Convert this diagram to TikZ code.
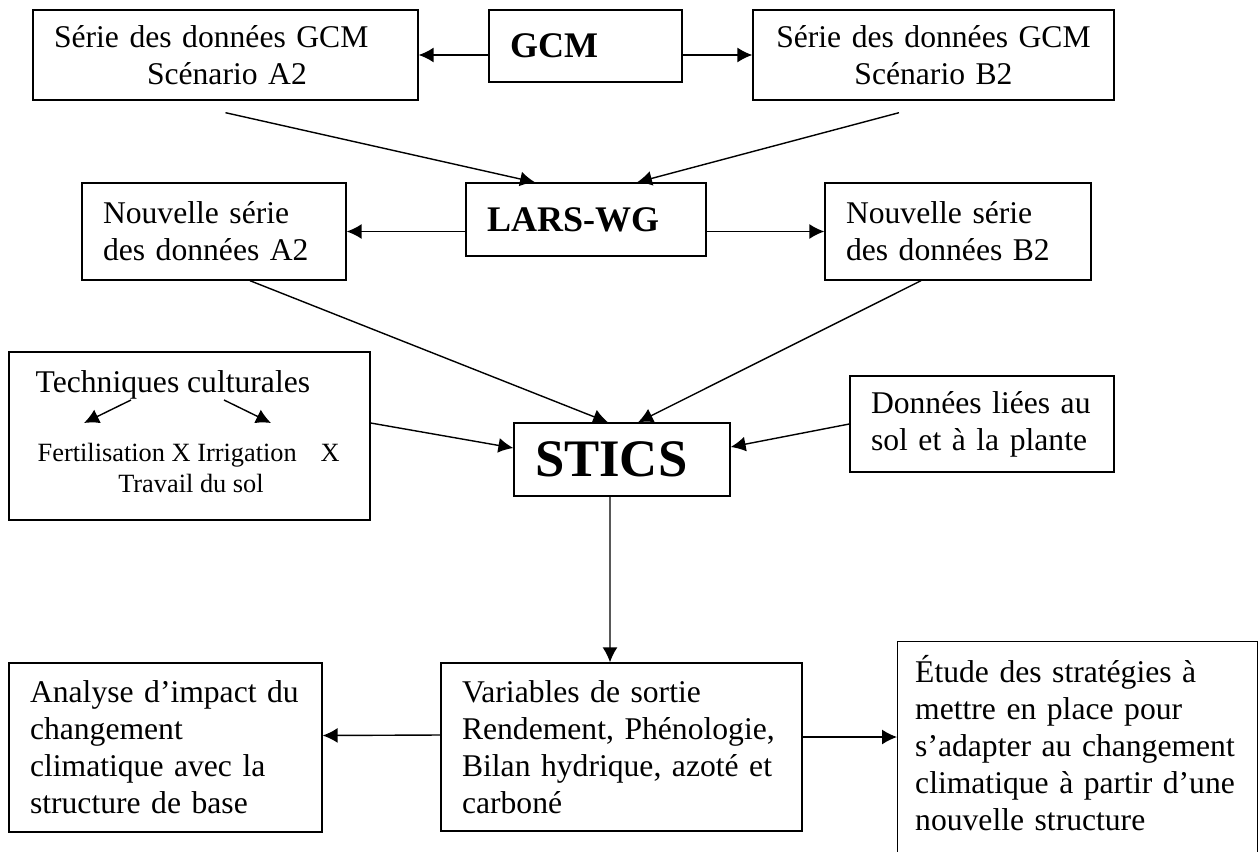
\documentclass[tikz,border=0pt]{standalone}
\usepackage{fontspec}
\setmainfont{Liberation Serif}
\usetikzlibrary{arrows.meta}

\begin{document}
\begin{tikzpicture}[x=0.02cm, y=-0.02cm, line width=0.8pt, >={Latex[length=8.5pt,width=8.5pt]},
    every node/.style={font=\fontsize{18}{21}\selectfont},
    bnode/.style={draw, inner xsep=0.42cm, inner ysep=0pt, align=left},
    cnode/.style={draw, inner sep=0pt, align=center, text width=#1},
    tnode/.style={inner sep=0pt},
    bold/.style={font=\fontsize{20.5}{24}\selectfont\bfseries},
    small/.style={font=\fontsize{15}{18}\selectfont}]
    \useasboundingbox (0,0) rectangle (1258,852);
    \clip (0,0) rectangle (1258,852);

    \node[bnode, text width=6.86cm, minimum height=1.8cm] (serA) at (225.5,55) {Série des données GCM\\\hspace*{1.86cm}Scénario A2};
    \node[bnode, bold, text width=3.02cm, minimum height=1.44cm] (gcm) at (585.5,46) {GCM};
    \node[cnode=7.22cm, minimum height=1.8cm] (serB) at (933.5,55) {Série des données GCM\\Scénario B2};

    \node[bnode, bold, text width=3.96cm, minimum height=1.46cm] (lars) at (586,219.5) {LARS-WG};
    \node[bnode, text width=4.44cm, minimum height=1.94cm] (nouvA) at (214,231.5) {Nouvelle série\\des données A2};
    \node[bnode, text width=4.48cm, minimum height=1.94cm] (nouvB) at (958,231.5) {Nouvelle série\\des données B2};

    \node[draw, minimum width=7.22cm, minimum height=3.36cm] (tech) at (189.5,436) {};
    \node[tnode, anchor=base west] (techT) at (35,392) {Techniques culturales};
    \node[tnode, small, anchor=base west] (techF) at (37,461) {Fertilisation X Irrigation\hspace{0.9em}X};
    \node[tnode, small, anchor=base] (techS) at (191,492) {Travail du sol};
    \coordinate (tA) at (131,400);
    \coordinate (tAe) at (84,423);
    \coordinate (tB) at (224,400);
    \coordinate (tBe) at (271,423);

    \node[bnode, text width=3.48cm, minimum height=1.46cm, font=\fontsize{30}{34}\selectfont\bfseries] (stics) at (622,459.5) {STICS};
    \node[bnode, text width=4.44cm, minimum height=1.92cm] (donnees) at (982,424) {Données liées au\\sol et à la plante};

    \node[bnode, text width=5.42cm, minimum height=3.38cm] (analyse) at (165.5,747.5) {Analyse d’impact du\\changement\\climatique avec la\\structure de base};
    \node[bnode, text width=6.38cm, minimum height=3.36cm] (variables) at (621.5,747) {Variables de sortie\\Rendement, Phénologie,\\Bilan hydrique, azoté et\\carboné};
    \node[bnode, text width=6.5cm, inner xsep=0.35cm, inner ysep=0.28cm, text depth=5cm, anchor=north west] (etude) at (897,641) {Étude des stratégies à\\mettre en place pour\\\mbox{s’adapter au changement}\\\mbox{climatique à partir d’une}\\nouvelle structure};

    \draw[->] (gcm.west |- serA.east) -- (serA.east);
    \draw[->] (gcm.east |- serB.west) -- (serB.west);
    \draw[->] ([yshift=-0.24cm]serA.south) -- ([xshift=-1.02cm]lars.north);
    \draw[->] ([xshift=-0.69cm,yshift=-0.24cm]serB.south) -- ([xshift=1.02cm]lars.north);
    \draw[->] (lars.west |- nouvA.east) -- (nouvA.east);
    \draw[->] (lars.east |- nouvB.west) -- (nouvB.west);
    \draw[->] ([xshift=0.72cm]nouvA.south) -- ([xshift=-0.28cm]stics.north);
    \draw[->] ([xshift=-0.74cm]nouvB.south) -- ([xshift=0.32cm]stics.north);
    \draw[->] (tA) -- (tAe);
    \draw[->] (tB) -- (tBe);
    \draw[->] ([yshift=0.26cm]tech.east) -- ([yshift=0.23cm]stics.west);
    \draw[->] (donnees.west) -- ([yshift=0.25cm]stics.east);
    \draw[->] ([xshift=-0.24cm]stics.south) -- ([xshift=-0.23cm]variables.north);
    \draw[->] ([yshift=0.24cm]variables.west) -- ([yshift=0.24cm]analyse.east);
    \coordinate (vE) at ([yshift=0.2cm]variables.east);
    \draw[->] (vE) -- (vE -| etude.west);
\end{tikzpicture}
\end{document}
